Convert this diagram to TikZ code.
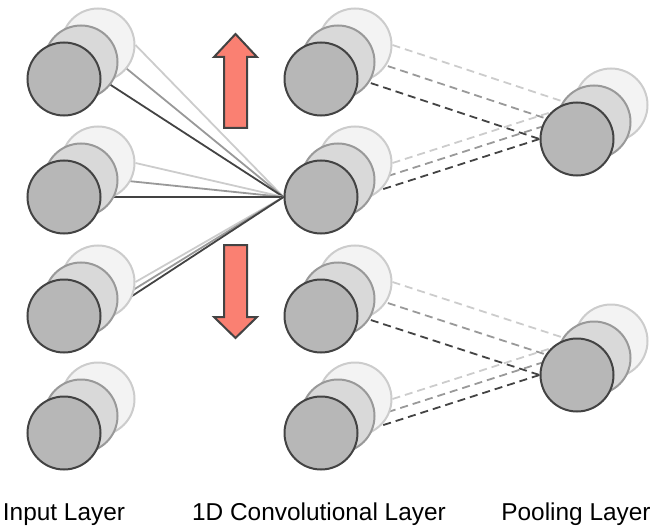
\documentclass[tikz,border=0pt]{standalone}
\usepackage{fontspec}
\setmainfont{Liberation Sans}
\usepackage{tikz}

\definecolor{ringdark}{HTML}{434343}
\definecolor{ringmid}{HTML}{999999}
\definecolor{ringlight}{HTML}{CCCCCC}
\definecolor{filldark}{HTML}{B7B7B7}
\definecolor{fillmid}{HTML}{D9D9D9}
\definecolor{filllight}{HTML}{F3F3F3}
\definecolor{salmonred}{HTML}{FA8072}

\pgfdeclarelayer{bg}
\pgfsetlayers{bg,main}

\begin{document}
\begin{tikzpicture}[
          x=1pt, y=-1pt,
          every node/.style={circle, inner sep=0pt, minimum size=73pt, line width=2pt},
          front/.style={draw=ringdark, fill=filldark},
          mid/.style={draw=ringmid, fill=fillmid},
          back/.style={draw=ringlight, fill=filllight},
          wire/.style={line width=1.8pt},
          wirec/.style={wire, ringdark},
          wireb/.style={wire, ringmid},
          wirea/.style={wire, ringlight},
          pool/.style={dash pattern=on 8pt off 5pt},
          shift arrow/.style={draw=ringdark, line width=2pt, fill=salmonred, line join=miter},
          label/.style={rectangle, minimum size=0pt, font=\fontsize{24.4}{29}\selectfont, inner sep=0pt, anchor=base}
        ]
        \useasboundingbox (0,0) rectangle (664,532);
        % stacks: back (a), middle (b), front (c)
        \foreach \n/\x/\y in {in1/64/79, in2/64/197, in3/64/316, in4/64/433,
                              cv1/321/79, cv2/321/197, cv3/321/316, cv4/321/433,
                              pl1/577/139, pl2/577/375} {
          \node[back] (\n a) at (\x+34,\y-34) {};
          \node[mid] (\n b) at (\x+17,\y-17) {};
          \node[front] (\n c) at (\x,\y) {};
        }
        \begin{pgfonlayer}{bg}
          % input -> convolution
          \foreach \r in {1,2,3} {
            \draw[wirea] (in\r a.east) -- (cv2c.west);
            \draw[wireb] (in\r b.east) -- (cv2c.west);
            \draw[wirec] (in\r c.east) -- (cv2c.west);
          }
          % convolution -> pooling
          \foreach \r/\p in {1/1, 2/1, 3/2, 4/2} {
            \draw[wirea, pool] (cv\r a.east) -- (pl\p a.west);
            \draw[wireb, pool] (cv\r b.east) -- (pl\p b.west);
            \draw[wirec, pool] (cv\r c.east) -- (pl\p c.west);
          }
        \end{pgfonlayer}
        % sliding direction
        \draw[shift arrow] (235.5,34) -- (257,57) -- (247,57) -- (247,128)
          -- (224,128) -- (224,57) -- (214,57) -- cycle;
        \draw[shift arrow] (235.5,338) -- (257,317) -- (247,317) -- (247,245)
          -- (224,245) -- (224,317) -- (214,317) -- cycle;
        % layer names
        \node[label] (inname) at (64,520) {Input Layer};
        \node[label] (cvname) at (319,520) {1D Convolutional Layer};
        \node[label] (plname) at (576,520) {Pooling Layer};
\end{tikzpicture}
\end{document}
